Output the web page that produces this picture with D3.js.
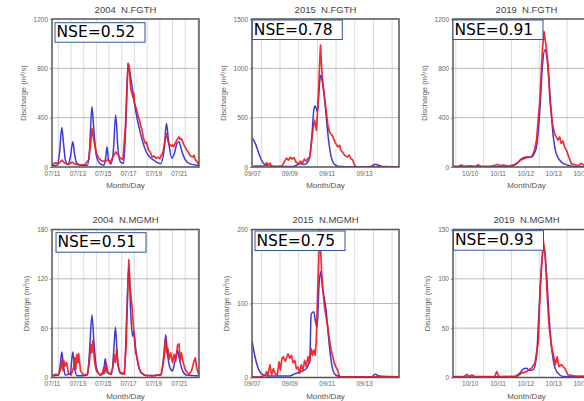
<!DOCTYPE html>
<html>
<head>
<meta charset="utf-8">
<script src="https://cdn.jsdelivr.net/npm/d3@7"></script>
<style>
  body { margin: 0; background: #fff; }
  svg { display: block; font-family: "Liberation Sans", Arial, sans-serif; }
</style>
</head>
<body>
<div id="chart"></div>
<script>
// panel text
var titles = ["2004  N.FGTH", "2015  N.FGTH", "2019  N.FGTH", "2004  N.MGMH", "2015  N.MGMH", "2019  N.MGMH"];
var nseValues = ["0.52", "0.78", "0.91", "0.51", "0.75", "0.93"];

// y axes
var yMax = [1200, 1500, 1200, 180, 200, 150];
var yTicks = [[0, 400, 800, 1200], [0, 500, 1000, 1500], [0, 400, 800, 1200],
              [0, 60, 120, 180], [0, 100, 200], [0, 50, 100, 150]];

// x axes (days after the first labelled date)
var labels2004 = ["07/11", "07/13", "07/15", "07/17", "07/19", "07/21"];
var labelDays2004 = [0, 2, 4, 6, 8, 10];
var labels2015 = ["09/07", "09/09", "09/11", "09/13"];
var labelDays2015 = [0, 2, 4, 6];
var labels2019 = ["10/10", "10/11", "10/12", "10/13", "10/14"];
var labelDays2019 = [0, 1, 2, 3, 4];
var range2004 = [0, 11.59], range2015 = [0, 7.87], range2019 = [-0.6, 4.68];

// discharge series: [day, m3/s]; blue = simulated, red = observed
var fgth2004Sim = [[0,12],[0.4,14],[0.6,120],[0.77,320],[0.9,200],[1.05,60],[1.25,22],[1.45,80],[1.64,205],[1.8,90],[2.0,25],[2.4,12],[2.8,15],[2.95,120],[3.15,490],[3.3,300],[3.5,90],[3.8,25],[4.1,14],[4.25,90],[4.34,165],[4.45,60],[4.65,25],[4.85,150],[5.02,422],[5.2,150],[5.4,40],[5.65,30],[5.8,300],[6.0,840],[6.15,760],[6.32,650],[6.59,460],[6.98,271],[7.5,108],[8.04,54],[8.57,27],[8.85,150],[9.02,354],[9.2,200],[9.45,70],[9.65,110],[9.85,190],[10.02,205],[10.2,140],[10.5,60],[10.9,25],[11.59,12]];
var fgth2004Obs = [[0,20],[0.3,35],[0.5,25],[0.8,55],[1.0,30],[1.3,20],[1.6,40],[1.8,25],[2.2,15],[2.6,20],[2.9,60],[3.05,200],[3.15,310],[3.3,220],[3.5,110],[3.7,70],[3.9,50],[4.2,45],[4.4,60],[4.6,40],[4.8,80],[5.02,122],[5.2,100],[5.4,70],[5.6,60],[5.8,350],[6.0,840],[6.1,800],[6.2,640],[6.3,596],[6.4,560],[6.45,600],[6.5,520],[6.65,470],[6.8,406],[6.9,380],[7.0,330],[7.1,300],[7.2,240],[7.36,190],[7.45,200],[7.6,140],[7.75,120],[7.9,81],[8.05,90],[8.2,70],[8.35,80],[8.5,68],[8.75,120],[9.0,271],[9.2,190],[9.4,170],[9.5,180],[9.6,165],[9.8,210],[10.0,244],[10.1,225],[10.2,230],[10.4,180],[10.6,140],[10.75,120],[10.9,90],[11.1,81],[11.2,95],[11.3,60],[11.45,40],[11.59,20]];
var fgth2015Sim = [[0,290],[0.1,270],[0.25,203],[0.4,120],[0.51,68],[0.65,30],[0.78,17],[1.0,8],[1.5,4],[2.2,5],[2.4,20],[2.6,35],[2.8,25],[2.95,40],[3.09,102],[3.2,300],[3.3,560],[3.37,620],[3.45,590],[3.5,560],[3.58,750],[3.67,931],[3.75,880],[3.88,711],[3.97,520],[4.06,339],[4.15,200],[4.24,102],[4.33,50],[4.41,27],[4.6,8],[5.0,3],[6.3,3],[6.5,20],[6.63,27],[6.8,15],[7.0,5],[7.87,3]];
var fgth2015Obs = [[0,5],[0.2,10],[0.5,8],[0.7,15],[0.78,45],[0.85,20],[0.95,40],[1.05,10],[1.3,5],[1.6,10],[1.75,60],[1.85,90],[1.95,70],[2.05,100],[2.15,80],[2.25,95],[2.35,50],[2.5,30],[2.6,60],[2.7,40],[2.8,80],[2.9,60],[3.0,90],[3.09,100],[3.18,237],[3.28,406],[3.35,474],[3.45,372],[3.55,700],[3.62,1050],[3.67,1236],[3.73,1000],[3.79,846],[3.88,700],[3.97,575],[4.06,420],[4.15,355],[4.25,330],[4.33,305],[4.45,250],[4.6,203],[4.7,220],[4.75,170],[4.85,150],[4.96,118],[5.1,100],[5.2,120],[5.3,85],[5.4,70],[5.45,34],[5.55,5],[5.7,2],[7.87,2]];
var fgth2019Sim = [[-0.6,3],[1.4,3],[1.55,10],[1.69,27],[1.86,68],[2.04,81],[2.22,81],[2.32,110],[2.4,163],[2.52,460],[2.61,813],[2.7,948],[2.78,880],[2.88,596],[2.99,271],[3.11,108],[3.29,41],[3.53,14],[3.8,3],[4.68,3]];
var fgth2019Obs = [[-0.6,5],[-0.4,8],[-0.3,15],[-0.2,5],[0,10],[0.2,5],[0.3,18],[0.4,6],[0.8,8],[1.0,20],[1.1,10],[1.2,15],[1.4,8],[1.55,15],[1.69,30],[1.86,60],[2.04,76],[2.22,81],[2.32,130],[2.4,217],[2.52,542],[2.61,948],[2.67,1097],[2.73,1002],[2.82,813],[2.88,542],[2.97,352],[3.05,271],[3.11,244],[3.17,217],[3.23,244],[3.29,190],[3.35,210],[3.41,163],[3.5,122],[3.53,100],[3.65,27],[3.83,14],[3.9,8],[4.0,30],[4.1,15],[4.2,10],[4.68,8]];
var mgmh2004Sim = [[0,2],[0.5,3],[0.65,15],[0.77,31],[0.9,15],[1.05,3],[1.45,5],[1.55,20],[1.64,31],[1.8,10],[2.0,2],[2.8,3],[2.95,30],[3.15,76],[3.3,45],[3.5,12],[3.8,3],[4.05,5],[4.2,23],[4.35,6],[4.7,4],[4.9,40],[5.0,61],[5.15,25],[5.35,6],[5.7,5],[5.9,80],[6.06,136],[6.2,80],[6.35,50],[6.45,57],[6.6,35],[6.8,15],[7.1,5],[7.5,2],[8.6,3],[8.8,25],[8.97,52],[9.1,30],[9.3,12],[9.5,8],[9.7,20],[9.9,33],[10.05,22],[10.3,8],[10.6,3],[11.59,2]];
var mgmh2004Obs = [[0,2],[0.3,4],[0.5,3],[0.7,10],[0.8,22],[0.88,8],[0.95,20],[1.05,14],[1.15,18],[1.3,5],[1.5,3],[1.7,12],[1.8,24],[1.88,10],[1.95,28],[2.05,18],[2.1,29],[2.25,8],[2.5,3],[2.8,4],[2.95,20],[3.07,40],[3.15,30],[3.22,45],[3.35,20],[3.5,8],[3.8,3],[4.0,6],[4.07,12],[4.15,5],[4.3,16],[4.4,6],[4.6,4],[4.8,12],[4.9,28],[5.0,18],[5.1,35],[5.2,15],[5.4,5],[5.7,4],[5.85,40],[6.0,120],[6.06,143],[6.15,110],[6.32,85],[6.45,55],[6.6,30],[6.72,24],[6.85,12],[7.0,6],[7.3,3],[8.0,2],[8.6,4],[8.8,20],[8.97,47],[9.05,30],[9.15,35],[9.23,22],[9.35,30],[9.5,18],[9.63,28],[9.75,20],[9.9,39],[10.02,41],[10.1,20],[10.2,30],[10.29,22],[10.45,12],[10.56,8],[10.8,4],[11.0,8],[11.2,20],[11.3,24],[11.4,12],[11.59,3]];
var mgmh2015Sim = [[0,50],[0.16,28],[0.34,12],[0.51,5],[0.8,2],[2.0,2],[2.29,5],[2.64,8],[2.91,12],[3.09,23],[3.17,86],[3.31,89],[3.39,77],[3.49,68],[3.58,120],[3.67,143],[3.79,118],[3.97,91],[4.06,65],[4.15,41],[4.33,10],[4.5,3],[4.8,1],[6.4,1],[6.6,4.5],[6.8,2],[7.87,1]];
var mgmh2015Obs = [[0,1],[0.5,1],[0.7,3],[0.78,8],[0.85,2],[0.96,17],[1.05,4],[1.15,12],[1.22,6],[1.35,3],[1.45,21],[1.52,10],[1.6,25],[1.67,28],[1.78,22],[1.93,32],[2.02,26],[2.11,30],[2.2,20],[2.29,23],[2.38,12],[2.46,14],[2.55,6],[2.64,17],[2.72,10],[2.82,23],[2.9,15],[3.0,28],[3.08,20],[3.17,39],[3.24,30],[3.31,37],[3.38,30],[3.44,50],[3.53,127],[3.63,199],[3.68,170],[3.74,136],[3.88,95],[4.06,68],[4.15,50],[4.24,37],[4.41,19],[4.5,14],[4.59,10],[4.68,1],[7.87,1]];
var mgmh2019Sim = [[-0.6,0.5],[1.6,1],[1.8,4.4],[1.92,8.4],[2.04,9.4],[2.16,7],[2.28,7.7],[2.4,21],[2.49,68],[2.58,112],[2.66,130],[2.76,105],[2.85,62],[2.94,31],[3.05,11],[3.17,4.4],[3.35,1],[4.68,0.5]];
var mgmh2019Obs = [[-0.6,1],[-0.2,1],[-0.1,3],[0,1],[0.08,2.5],[0.2,1],[0.9,1],[0.97,6],[1.05,1],[1.7,1],[1.86,4.4],[2.04,6],[2.22,9.4],[2.34,14.5],[2.46,35],[2.54,95],[2.64,139],[2.71,126],[2.78,85],[2.85,52],[2.94,31],[3.02,21],[3.08,13],[3.14,21],[3.21,11],[3.29,13],[3.41,9.4],[3.53,2.7],[3.8,1.5],[4.68,1]];

var sims = [fgth2004Sim, fgth2015Sim, fgth2019Sim, mgmh2004Sim, mgmh2015Sim, mgmh2019Sim];
var obss = [fgth2004Obs, fgth2015Obs, fgth2019Obs, mgmh2004Obs, mgmh2015Obs, mgmh2019Obs];
var xLabels = [labels2004, labels2015, labels2019];
var xLabelDays = [labelDays2004, labelDays2015, labelDays2019];
var xRanges = [range2004, range2015, range2019];

// layout
var width = 584, height = 401;
var colLeft = [52, 252, 453], rowTop = [19, 229.5];
var plotW = 147, plotH = 148;
var boxOffset = [[3, 3.7], [0.3, 1], [0, 1], [4, 3.2], [3, 1.5], [0.5, 1.2]];

var svg = d3.select("#chart")
    .append("svg")
    .attr("width", width)
    .attr("height", height);

function drawPanel(i) {
    var col = i % 3, row = Math.floor(i / 3);
    var px = colLeft[col], py = rowTop[row];

    var x = d3.scaleLinear().domain(xRanges[col]).range([0, plotW]);
    var y = d3.scaleLinear().domain([0, yMax[i]]).range([plotH, 0]);

    var g = svg.append("g").attr("transform", "translate(" + px + "," + py + ")");

    g.append("clipPath").attr("id", "clip" + i)
        .append("rect").attr("width", plotW).attr("height", plotH);

    // vertical grid at noon of each day
    var noon = d3.range(Math.floor(xRanges[col][0]), xRanges[col][1], 1)
        .map(function(d) { return d + 0.5; })
        .filter(function(d) { return d > xRanges[col][0] && d < xRanges[col][1]; });
    g.selectAll(".vgrid").data(noon).enter().append("line")
        .attr("class", "vgrid")
        .attr("x1", function(d) { return x(d); }).attr("x2", function(d) { return x(d); })
        .attr("y1", 0).attr("y2", plotH)
        .attr("stroke", "#d6d6d6").attr("stroke-width", 0.9);

    // horizontal grid
    g.selectAll(".hgrid").data(yTicks[i].slice(1, -1)).enter().append("line")
        .attr("class", "hgrid")
        .attr("x1", 0).attr("x2", plotW)
        .attr("y1", function(d) { return y(d); }).attr("y2", function(d) { return y(d); })
        .attr("stroke", "#a8a8a8").attr("stroke-width", 0.8);

    var smooth = d3.line()
        .curve(d3.curveMonotoneX)
        .x(function(d) { return x(d[0]); })
        .y(function(d) { return y(d[1]); });
    var line = d3.line()
        .x(function(d) { return x(d[0]); })
        .y(function(d) { return y(d[1]); });

    g.append("path").datum(sims[i])
        .attr("clip-path", "url(#clip" + i + ")")
        .attr("d", smooth)
        .attr("fill", "none")
        .attr("stroke", "#4038d8")
        .attr("stroke-width", 1.5)
        .attr("stroke-linejoin", "round");

    g.append("path").datum(obss[i])
        .attr("clip-path", "url(#clip" + i + ")")
        .attr("d", line)
        .attr("fill", "none")
        .attr("stroke", "#ee1c24")
        .attr("stroke-opacity", 0.92)
        .attr("stroke-width", 1.7)
        .attr("stroke-linejoin", "round");

    // frame
    g.append("rect")
        .attr("width", plotW).attr("height", plotH)
        .attr("fill", "none").attr("stroke", "#555").attr("stroke-width", 1.5);

    // axes
    var ya = g.append("g")
        .call(d3.axisLeft(y).tickValues(yTicks[i]).tickSize(2).tickPadding(2).tickFormat(d3.format("d")));
    ya.select(".domain").remove();
    ya.selectAll("line").attr("stroke", "#777");
    ya.selectAll("text").style("font-size", "6.5px").attr("fill", "#666");

    var xa = g.append("g")
        .attr("transform", "translate(0," + plotH + ")")
        .call(d3.axisBottom(x).tickValues(xLabelDays[col]).tickSize(0).tickPadding(4)
            .tickFormat(function(d, k) { return xLabels[col][k]; }));
    xa.select(".domain").remove();
    xa.selectAll("text").style("font-size", "6.5px").attr("fill", "#666");

    // titles and axis labels
    g.append("text")
        .attr("x", plotW / 2).attr("y", -6.5)
        .attr("text-anchor", "middle")
        .style("font-size", "9.5px").attr("fill", "#444")
        .style("white-space", "pre")
        .text(titles[i]);

    g.append("text")
        .attr("x", plotW / 2).attr("y", plotH + 21)
        .attr("text-anchor", "middle")
        .style("font-size", "8px").attr("fill", "#555")
        .text("Month/Day");

    g.append("text")
        .attr("transform", "translate(" + (row == 0 ? -29 : -26) + "," + (plotH / 2) + ") rotate(-90)")
        .attr("text-anchor", "middle")
        .attr("dy", "0.35em")
        .style("font-size", "7.5px").attr("fill", "#666")
        .text("Discharge (m³/s)");

    // NSE box
    var bx = boxOffset[i][0], by = boxOffset[i][1];
    g.append("rect")
        .attr("x", bx).attr("y", by)
        .attr("width", 90).attr("height", 19.5)
        .attr("fill", "#fff").attr("stroke", "#2f5597").attr("stroke-width", 1);
    g.append("text")
        .attr("x", bx + 1.5).attr("y", by + 14.5)
        .style("font-family", "'DejaVu Sans', sans-serif")
        .style("font-size", "15.5px").attr("fill", "#000")
        .text("NSE=" + nseValues[i]);
}

for (var i = 0; i < 6; i++) drawPanel(i);
</script>
</body>
</html>
